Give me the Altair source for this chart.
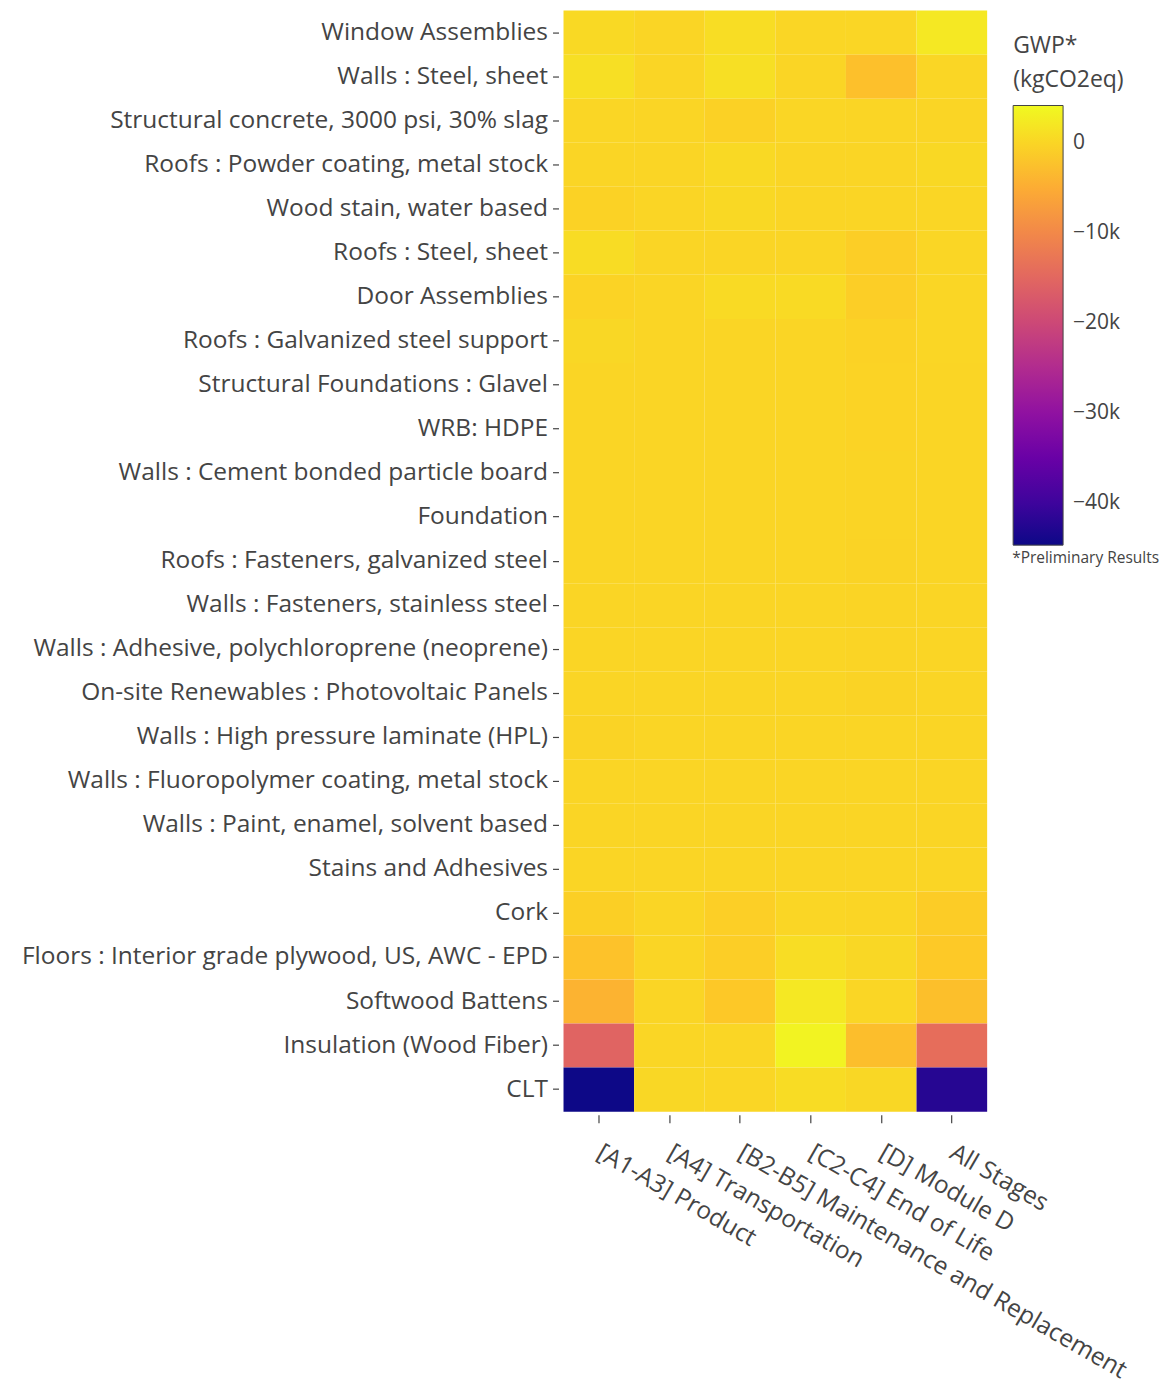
import altair as alt
import pandas as pd

materials = [
    "Window Assemblies",
    "Walls : Steel, sheet",
    "Structural concrete, 3000 psi, 30% slag",
    "Roofs : Powder coating, metal stock",
    "Wood stain, water based",
    "Roofs : Steel, sheet",
    "Door Assemblies",
    "Roofs : Galvanized steel support",
    "Structural Foundations : Glavel",
    "WRB: HDPE",
    "Walls : Cement bonded particle board",
    "Foundation",
    "Roofs : Fasteners, galvanized steel",
    "Walls : Fasteners, stainless steel",
    "Walls : Adhesive, polychloroprene (neoprene)",
    "On-site Renewables : Photovoltaic Panels",
    "Walls : High pressure laminate (HPL)",
    "Walls : Fluoropolymer coating, metal stock",
    "Walls : Paint, enamel, solvent based",
    "Stains and Adhesives",
    "Cork",
    "Floors : Interior grade plywood, US, AWC - EPD",
    "Softwood Battens",
    "Insulation (Wood Fiber)",
    "CLT",
]

stages = [
    "[A1-A3] Product",
    "[A4] Transportation",
    "[B2-B5] Maintenance and Replacement",
    "[C2-C4] End of Life",
    "[D] Module D",
    "All Stages",
]

# GWP (kgCO2eq) per material, columns in the order of `stages`
gwp = [
    [500, 0, 1000, 200, 100, 2200],
    [1200, 0, 1200, 0, -2500, 100],
    [200, 0, -400, 100, 0, 0],
    [0, 0, 500, 0, 0, 400],
    [-300, 0, 400, 0, 0, 200],
    [800, 0, 0, 0, -800, 100],
    [-200, 0, 600, 600, -800, 200],
    [300, 0, 0, 0, -300, 100],
    [0, 0, 0, 0, -200, 0],
    [0, 0, 0, 0, -200, 0],
    [0, 0, 0, 0, -100, 0],
    [0, 0, 0, 0, -100, 0],
    [0, 0, 0, 0, -150, 0],
    [0, 0, 0, 0, -100, 0],
    [0, 0, 0, 0, -100, 0],
    [0, 0, 0, 0, -150, 0],
    [-150, 0, 0, 0, 0, 0],
    [0, 0, 0, 0, 0, 0],
    [0, 0, 0, 0, 0, 0],
    [0, 0, 0, 0, 0, 0],
    [-600, 0, -700, 100, 0, -1000],
    [-2200, 0, -800, 1000, 300, -1400],
    [-4200, 0, -1500, 2200, 200, -2600],
    [-15400, 200, 200, 3500, -2800, -14000],
    [-44700, 300, 100, 900, 300, -42300],
]

legend_ticks = [0, -10000, -20000, -30000, -40000]
note = ["*Preliminary Results"]

plasma = ["#0d0887", "#46039f", "#7201a8", "#9c179e", "#bd3786",
          "#d8576b", "#ed7953", "#fb9f3a", "#fdca26", "#f0f921"]
zmin, zmax = -44700, 4200
dom = [zmin + i * (zmax - zmin) / 9 for i in range(10)]

rows = []
for m, vals in zip(materials, gwp):
    for s, v in zip(stages, vals):
        rows.append({"material": m, "stage": s, "gwp": v})
df = pd.DataFrame(rows)

FONT = "Open Sans"
GREY = "#444444"
LFS = 24.5

heat = alt.Chart(df).mark_rect().encode(
    x=alt.X("stage:N", sort=stages, title=None,
            scale=alt.Scale(paddingInner=0, paddingOuter=0),
            axis=alt.Axis(labelAngle=30, labelAlign="left", labelBaseline="middle",
                          labelFontSize=LFS, labelColor=GREY, labelFont=FONT,
                          tickColor=GREY, tickSize=8, tickWidth=1.2, labelPadding=28,
                          offset=3, domain=False, labelLimit=0)),
    y=alt.Y("material:N", sort=materials, title=None,
            scale=alt.Scale(paddingInner=0, paddingOuter=0),
            axis=alt.Axis(labelFontSize=LFS, labelColor=GREY, labelFont=FONT,
                          tickColor=GREY, tickSize=6, tickWidth=1.2, labelPadding=5,
                          offset=5, domain=False, labelLimit=0)),
    color=alt.Color("gwp:Q",
                    scale=alt.Scale(domain=dom, range=plasma, interpolate="rgb"),
                    legend=alt.Legend(
                        title=["GWP*", "\u00a0(kgCO2eq)"], titleFontSize=23, titleColor=GREY,
                        titleFont=FONT, titleFontWeight="normal", titleLineHeight=34,
                        titlePadding=14, values=legend_ticks,
                        labelExpr="datum.value == 0 ? '0' : format(datum.value, '~s')",
                        labelFontSize=21, labelColor=GREY, labelFont=FONT, labelOffset=10,
                        gradientLength=440, gradientThickness=50,
                        gradientStrokeColor=GREY, gradientStrokeWidth=1,
                        direction="vertical", orient="none", legendX=450, legendY=24,
                        padding=0)),
)

foot = alt.Chart(pd.DataFrame({"note": note})).mark_text(
    align="left", baseline="middle", font=FONT, fontSize=15.5, color=GREY
).encode(text="note:N", x=alt.value(449), y=alt.value(548))

chart = alt.layer(heat, foot).properties(
    width=424, height=1102,
    padding={"left": 13, "top": 2, "right": 0, "bottom": 0},
).configure_view(stroke=None)

chart.save("out.html", embed_options={"renderer": "svg", "actions": False})
